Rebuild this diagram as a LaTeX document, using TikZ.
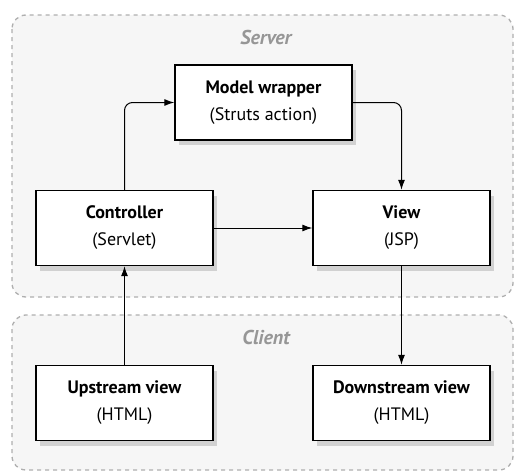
\documentclass[tikz,border=0pt]{standalone}
\usepackage{fontspec}
\setmainfont{PT Sans}
\usetikzlibrary{arrows.meta,shadows}
\definecolor{zonegray}{RGB}{246,246,246}
\definecolor{dashgray}{RGB}{175,175,175}
\definecolor{labelgray}{RGB}{150,150,150}
\tikzset{
  partbox/.style={draw,line width=1.4pt,fill=white,minimum width=177pt,minimum height=75pt,
    align=center,font={\fontsize{18pt}{27pt}\selectfont},
    drop shadow={shadow xshift=4pt,shadow yshift=-5pt,fill=black,opacity=.15}},
  zone/.style={draw=dashgray,fill=zonegray,dashed,dash pattern=on 4pt off 4pt,line width=1.3pt,rounded corners=14pt},
  zonelabel/.style={text=labelgray,font={\fontsize{20pt}{22pt}\selectfont\bfseries\itshape}},
  flow/.style={-{Latex[length=10pt,width=7pt]},line width=1pt,rounded corners=8pt}
}
\begin{document}
\begin{tikzpicture}[x=1pt,y=-1pt]
    \useasboundingbox (0,0) rectangle (515,471);
    \draw[zone] (12,15) rectangle (513,297);
    \draw[zone] (12,315) rectangle (513,470);
    \node[zonelabel] (server) at (266,37) {Server};
    \node[zonelabel] (client) at (266,337) {Client};
    \node[partbox] (model) at (263.5,102.5) {\textbf{Model wrapper}\\(Struts action)};
    \node[partbox] (ctrl) at (124.5,228) {\textbf{Controller}\\(Servlet)};
    \node[partbox] (view) at (401.5,228) {\textbf{View}\\(JSP)};
    \node[partbox] (up) at (124.5,403) {\textbf{Upstream view}\\(HTML)};
    \node[partbox] (down) at (401.5,403) {\textbf{Downstream view}\\(HTML)};
    \draw[flow] (ctrl.north) |- (model.west);
    \draw[flow] (model.east) -| (view.north);
    \draw[flow] (ctrl.east) -- (view.west);
    \draw[flow] (up.north) -- (ctrl.south);
    \draw[flow] (view.south) -- (down.north);
\end{tikzpicture}
\end{document}
